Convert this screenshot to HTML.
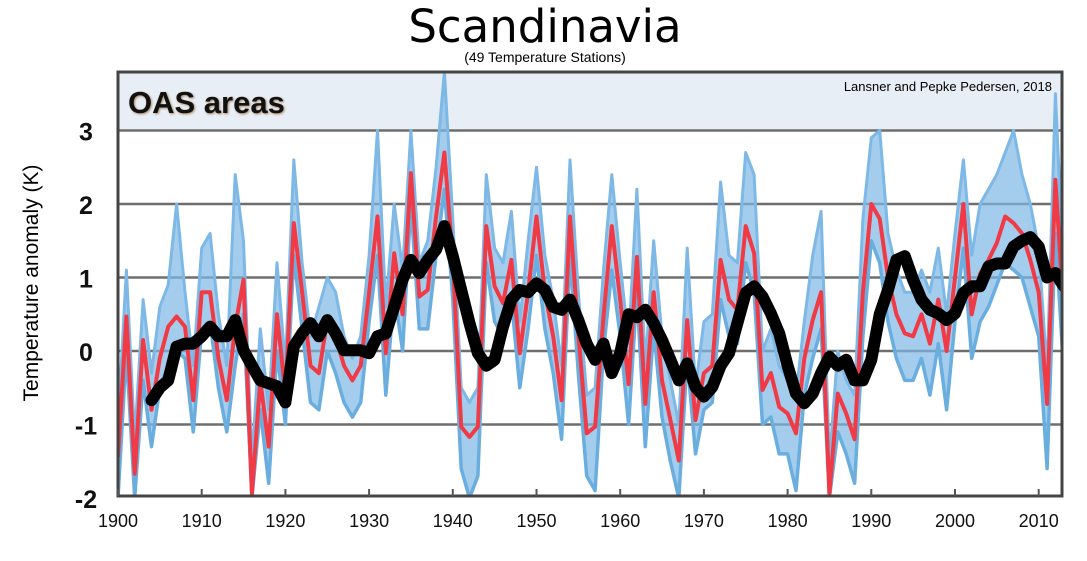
<!DOCTYPE html>
<html><head><meta charset="utf-8"><style>
html,body{margin:0;padding:0;background:#fff;}
svg{display:block;font-family:"Liberation Sans",sans-serif;}
</style></head><body>
<svg id="chart" width="1087" height="561" viewBox="0 0 1087 561">
<text x="545" y="42" text-anchor="middle" font-size="45" fill="#000" font-family="DejaVu Sans, sans-serif">Scandinavia</text>
<text x="545" y="62" text-anchor="middle" font-size="14" fill="#000">(49 Temperature Stations)</text>
<text transform="translate(38,283) rotate(-90)" text-anchor="middle" font-size="21" fill="#000">Temperature anomaly (K)</text>
<defs><clipPath id="pc"><rect x="118" y="72" width="944" height="424"/></clipPath></defs>
<rect x="118" y="72" width="944" height="58" fill="#e8eef5"/>
<g id="grid"></g>
<g id="series" clip-path="url(#pc)"></g>
<rect x="118" y="72" width="944" height="424" fill="none" stroke="#444" stroke-width="3"/>
<text x="128" y="113" font-size="31" font-weight="bold" fill="#111" style="text-shadow:1px 1px 2px #a86">OAS areas</text>
<text x="1052" y="91" text-anchor="end" font-size="13" fill="#000">Lansner and Pepke Pedersen, 2018</text>
<g id="ticks"></g>
</svg>
<script>
const startYear = 1900;
const redValues = [-1.44,0.47,-1.67,0.15,-0.8,-0.1,0.33,0.47,0.33,-0.67,
0.8,0.8,-0.1,-0.67,0.33,0.97,-1.94,-0.4,-1.3,0.5,
-0.58,1.74,0.8,-0.2,-0.3,0.42,0.2,-0.2,-0.4,-0.2,
0.8,1.83,-0.03,1.33,0.5,2.42,0.74,0.83,1.83,2.7,
1.24,-1.03,-1.17,-1.03,1.7,0.88,0.65,1.24,-0.03,0.8,
1.83,0.8,0.2,-0.67,1.83,0.24,-1.12,-1.03,0.47,1.7,
0.7,-0.45,1.28,-0.72,0.8,-0.4,-0.94,-1.49,0.42,-0.94,
-0.3,-0.2,1.24,0.7,0.56,1.7,1.33,-0.53,-0.3,-0.76,
-0.85,-1.12,-0.1,0.42,0.8,-1.94,-0.58,-0.85,-1.2,0.8,
2.0,1.8,1.0,0.5,0.24,0.2,0.5,0.1,0.7,0.0,
1.0,2.0,0.5,1.05,1.24,1.47,1.83,1.74,1.6,1.24,
0.8,-0.72,2.33,0.5];
const blueHighValues = [-1.0,1.1,-1.2,0.7,-0.3,0.6,0.9,2.0,0.8,-0.2,
1.4,1.6,0.5,-0.2,2.4,1.5,-1.5,0.3,-0.8,1.2,
-0.2,2.6,1.2,0.2,0.6,1.0,0.8,0.2,-0.1,0.2,
1.3,3.0,0.6,2.0,1.1,3.0,1.2,1.5,2.5,3.8,
1.8,-0.5,-0.7,-0.5,2.4,1.4,1.2,1.9,0.4,1.5,
2.5,1.3,0.7,-0.2,2.6,0.8,-0.6,-0.5,1.1,2.4,
1.2,0.1,2.2,-0.2,1.5,0.2,-0.4,-1.0,1.4,-0.5,
0.4,0.5,2.3,1.3,1.2,2.7,2.4,0.0,0.3,-0.2,
-0.4,-0.6,0.4,1.3,1.9,-1.5,0.0,-0.4,-0.6,1.8,
2.9,3.0,1.6,1.1,0.8,0.8,1.1,0.8,1.4,0.5,
1.6,2.6,1.3,2.0,2.2,2.4,2.7,3.0,2.4,2.0,
1.4,-0.3,3.5,1.0];
const blueLowValues = [-2.0,0.0,-2.0,-0.4,-1.3,-0.5,-0.2,0.0,-0.1,-1.1,
0.3,0.4,-0.5,-1.1,-0.2,0.5,-2.0,-0.8,-1.8,0.0,
-1.0,1.3,0.3,-0.7,-0.8,0.0,-0.3,-0.7,-0.9,-0.7,
0.4,1.3,-0.6,0.8,0.0,2.0,0.3,0.3,1.3,2.2,
0.7,-1.6,-2.0,-1.7,1.2,0.4,0.2,0.7,-0.5,0.3,
1.3,0.3,-0.3,-1.2,1.3,-0.3,-1.7,-1.9,0.0,1.1,
0.2,-1.0,0.8,-1.3,0.3,-0.9,-1.5,-2.0,-0.1,-1.4,
-0.8,-0.7,0.7,0.2,0.1,1.2,0.8,-1.0,-0.9,-1.4,
-1.4,-1.9,-0.6,-0.1,0.3,-2.0,-1.1,-1.4,-1.8,0.2,
1.5,1.2,0.4,-0.1,-0.4,-0.4,-0.1,-0.6,0.1,-0.8,
0.4,1.4,-0.1,0.4,0.6,0.9,1.2,1.1,1.0,0.6,
0.2,-1.6,1.6,-0.3];
const smoothStartYear = 1904;
const smoothValues = [-0.67,-0.5,-0.4,0.06,0.1,0.1,0.2,0.33,0.2,0.2,0.42,0.01,-0.2,-0.4,-0.44,-0.48,-0.7,
0.06,0.24,0.38,0.2,0.42,0.24,0.01,0.01,0.01,-0.03,0.2,0.24,0.6,0.97,1.24,1.06,1.24,1.38,1.7,
1.29,0.83,0.38,-0.03,-0.2,-0.12,0.33,0.7,0.83,0.8,0.92,0.83,0.6,0.56,0.7,0.42,0.1,-0.12,0.1,-0.3,
-0.03,0.5,0.46,0.56,0.38,0.15,-0.12,-0.4,-0.17,-0.49,-0.62,-0.49,-0.2,-0.03,0.38,0.79,0.88,0.74,0.51,0.24,
-0.2,-0.58,-0.71,-0.58,-0.3,-0.08,-0.2,-0.12,-0.4,-0.4,-0.12,0.5,0.83,1.24,1.29,0.97,0.7,0.56,0.51,0.42,
0.51,0.79,0.88,0.88,1.15,1.19,1.19,1.42,1.5,1.55,1.42,1.0,1.06,0.88];
const yTicks = [3,2,1,0,-1,-2];
const xTicks = [1900,1910,1920,1930,1940,1950,1960,1970,1980,1990,2000,2010];

const NS='http://www.w3.org/2000/svg';
function xs(yr){return 118 + (yr-1900)*8.37;}
function ys(v){return 351 - v*73.5;}
function mk(tag,attrs,parent){const e=document.createElementNS(NS,tag);for(const k in attrs)e.setAttribute(k,attrs[k]);parent.appendChild(e);return e;}
const grid=document.getElementById('grid'), series=document.getElementById('series'), ticks=document.getElementById('ticks');
yTicks.forEach(v=>{
  if(v>-2){const l=mk('line',{x1:118,x2:1062,y1:ys(v),y2:ys(v),stroke:'#6e6e6e','stroke-width':2.5},grid);
  
  }
  const t=mk('text',{x:86,y:ys(v)+10,'text-anchor':'middle','font-size':25,'font-weight':'bold',fill:'#111'},ticks);
  t.textContent=v;
  
  
});
xTicks.forEach(y=>{
  const l=mk('line',{x1:xs(y),x2:xs(y),y1:489,y2:496,stroke:'#555','stroke-width':2},ticks);
  
  
  const t=mk('text',{x:xs(y),y:527,'text-anchor':'middle','font-size':18,fill:'#111'},ticks);
  t.textContent=y;
  
  
});
function path(vals,start){return vals.map((v,i)=>(i?'L':'M')+xs(start+i).toFixed(1)+','+ys(v).toFixed(1)).join(' ');}
function band(hi,lo,start){
  let d=hi.map((v,i)=>(i?'L':'M')+xs(start+i).toFixed(1)+','+ys(v).toFixed(1)).join(' ');
  for(let i=lo.length-1;i>=0;i--) d+=' L'+xs(start+i).toFixed(1)+','+ys(lo[i]).toFixed(1);
  return d+' Z';
}
const bf=mk('path',{d:band(blueHighValues,blueLowValues,startYear),fill:'#7db8e6','fill-opacity':0.7,stroke:'none'},series);


const bh=mk('path',{d:path(blueHighValues,startYear),fill:'none',stroke:'#7db8e6','stroke-width':3,'stroke-linejoin':'round'},series);


const bl=mk('path',{d:path(blueLowValues,startYear),fill:'none',stroke:'#6aaee0','stroke-width':3.5,'stroke-linejoin':'round'},series);


const red=mk('path',{d:path(redValues,startYear),fill:'none',stroke:'#f03a45','stroke-width':4,'stroke-linejoin':'round'},series);


const blk=mk('path',{d:path(smoothValues,smoothStartYear),fill:'none',stroke:'#000','stroke-width':12,'stroke-linejoin':'round','stroke-linecap':'round'},series);


</script>
</body></html>
